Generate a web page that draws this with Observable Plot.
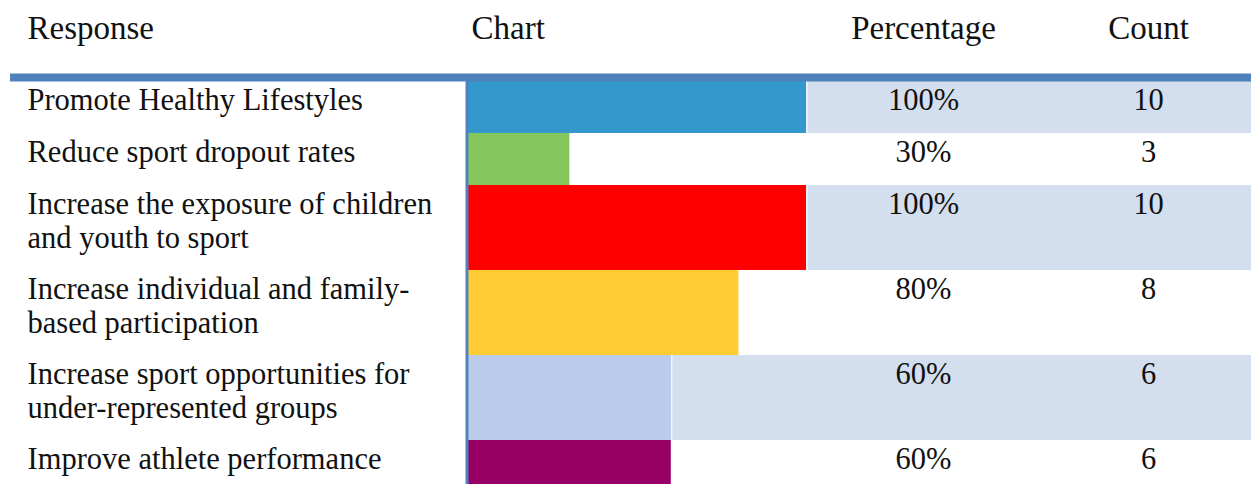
<!DOCTYPE html>
<html><head><meta charset="utf-8">
<script src="https://cdn.jsdelivr.net/npm/d3@7"></script>
<script src="https://cdn.jsdelivr.net/npm/@observablehq/plot@0.6"></script>
<style>body{margin:0;background:#fff}</style>
</head><body><div id="chart"></div>
<script>
// ---- data ----
const responses = [
  "Promote Healthy Lifestyles",
  "Reduce sport dropout rates",
  "Increase the exposure of children\nand youth to sport",
  "Increase individual and family-\nbased participation",
  "Increase sport opportunities for\nunder-represented groups",
  "Improve athlete performance"
];
const percentages = [100, 30, 100, 80, 60, 60];
const counts = [10, 3, 10, 8, 6, 6];
const barColors = ["#3399CC", "#85C75C", "#FF0000", "#FFCC33", "#BBCCEB", "#990066"];
const headers = ["Response", "Chart", "Percentage", "Count"];

// ---- layout ----
const W = 1251, H = 484, TOP = 81;
const LINE = 33, PAD = 19;
const FONT = "Liberation Serif";
const BODY = 30.5, LH = 34 / BODY;
let acc = 0;
const rows = responses.map((r, i) => {
  const lines = r.split("\n").length;
  const h = lines * LINE + PAD;
  const row = {response: r, pct: percentages[i], pctLabel: percentages[i] + "%", count: String(counts[i]),
               color: barColors[i], y1: acc, y2: acc + h, shaded: i % 2 === 0};
  acc += h;
  return row;
});
const shaded = rows.filter(d => d.shaded);

// column placement (px from left of svg)
const colResponse = 27, colChart = 471, colPct = 923, colCount = 1148, chartStart = 468, chartEnd = 806;

const headerMarks = [
  [headers[0], colResponse, "start"],
  [headers[1], colChart, "start"],
  [headers[2], colPct, "middle"],
  [headers[3], colCount, "middle"]
].map(([t, dx, anchor]) => Plot.text([t], {
  text: d => d, frameAnchor: "top-left", dx, dy: 15 - TOP, lineAnchor: "top",
  textAnchor: anchor, fontSize: 33, fill: "#111"
}));

const bodyText = (field, dx, anchor) => Plot.text(rows, {
  text: field, y: "y1", frameAnchor: "left", dx, dy: 4, lineAnchor: "top",
  textAnchor: anchor, fontSize: BODY, lineHeight: LH, fill: "#111"
});

const chart = Plot.plot({
  width: W, height: H,
  marginTop: TOP, marginBottom: 0, marginLeft: 0, marginRight: 0,
  style: {fontFamily: FONT, background: "white"},
  x: {domain: [0, 100], range: [chartStart, chartEnd], axis: null},
  y: {domain: [0, H - TOP], reverse: true, axis: null},
  color: {type: "identity"},
  marks: [
    Plot.rect(shaded, {y1: "y1", y2: "y2", fill: "#D3DFEE", insetLeft: chartStart}),
    Plot.rect(rows, {x1: 0, x2: "pct", y1: "y1", y2: "y2", fill: "color"}),
    Plot.ruleX(shaded, {x: "pct", y1: "y1", y2: "y2", stroke: "white", strokeWidth: 1, dx: 0.5}),
    Plot.ruleX([0], {stroke: "#4F81BD", strokeWidth: 3, dx: -1.5}),
    Plot.ruleY([0], {stroke: "#4F81BD", strokeWidth: 8, dy: -4, insetLeft: 10}),
    ...headerMarks,
    bodyText("response", colResponse, "start"),
    bodyText("pctLabel", colPct, "middle"),
    bodyText("count", colCount, "middle")
  ]
});
document.getElementById("chart").appendChild(chart);
</script>
</body></html>
